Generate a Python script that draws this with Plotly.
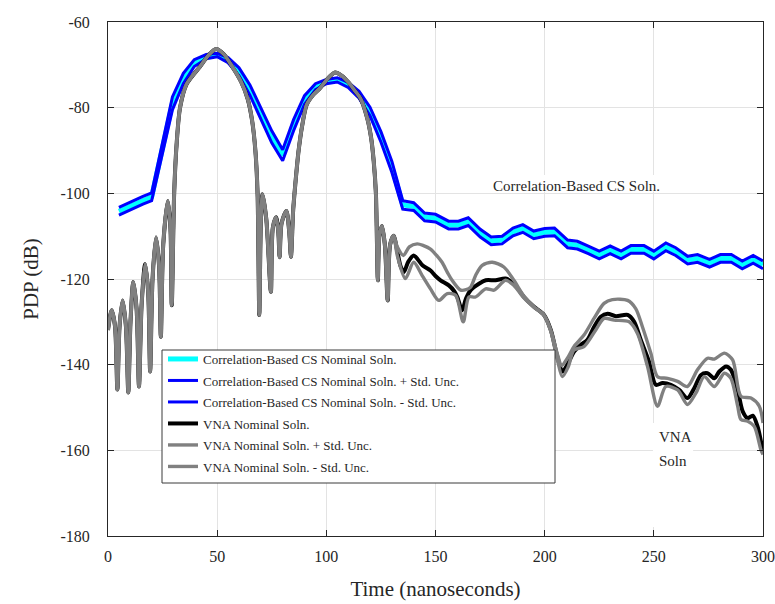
import plotly.graph_objects as go

# ---------------- Correlation-Based CS solution (coarse piecewise-linear) ----------------
cs_t = [5, 10, 16, 20, 29.5, 34.5, 39.5, 45, 50, 55, 60, 65, 70, 75, 80, 85, 90, 95, 100,
        105, 110, 115, 120, 125, 130, 135, 140, 145, 150, 156, 160.5, 165, 170.5, 175.5,
        180.5, 185.5, 190, 195, 200, 204.5, 210.5, 215, 220, 225, 230, 235, 239.5, 245.5,
        250, 255.5, 260, 265.5, 270, 275.5, 280.5, 285.5, 290.5, 295.5, 300]
cs_nominal = [-104.2, -103.0, -101.6, -100.8, -79.0, -73.2, -69.6, -68.1, -67.7, -68.9, -71.6,
              -75.9, -81.3, -86.8, -91.1, -84.1, -78.2, -75.1, -73.9, -73.5, -74.7, -77.0,
              -80.9, -86.8, -93.8, -102.7, -103.1, -105.5, -105.8, -107.4, -107.4, -106.6,
              -109.3, -111.1, -110.9, -109.0, -108.2, -109.7, -109.1, -109.0, -111.8, -112.1,
              -113.2, -114.4, -113.2, -114.4, -113.1, -113.1, -114.4, -112.5, -113.6, -115.6,
              -115.2, -116.3, -115.2, -115.2, -116.7, -115.4, -116.7]
cs_upper = [-103.3, -102.1, -100.7, -99.9, -77.5, -72.0, -68.8, -67.6, -67.3, -68.3, -70.7,
            -74.7, -80.0, -85.4, -89.8, -82.8, -77.2, -74.4, -73.4, -73.0, -74.1, -76.2,
            -79.9, -85.6, -92.5, -101.7, -102.2, -104.6, -104.9, -106.5, -106.5, -105.7,
            -108.4, -110.2, -110.0, -108.1, -107.3, -108.8, -108.2, -108.1, -110.9, -111.2,
            -112.3, -113.5, -112.3, -113.5, -112.2, -112.2, -113.5, -111.6, -112.7, -114.7,
            -114.3, -115.4, -114.3, -114.3, -115.8, -114.5, -115.8]
cs_lower = [-105.1, -103.9, -102.5, -101.7, -80.5, -74.4, -70.4, -68.6, -68.1, -69.5, -72.5,
            -77.1, -82.6, -88.2, -92.4, -85.4, -79.2, -75.8, -74.4, -74.0, -75.3, -77.8,
            -81.9, -88.0, -95.1, -103.7, -104.0, -106.4, -106.7, -108.3, -108.3, -107.5,
            -110.2, -112.0, -111.8, -109.9, -109.1, -110.6, -110.0, -109.9, -112.7, -113.0,
            -114.1, -115.3, -114.1, -115.3, -114.0, -114.0, -115.3, -113.4, -114.5, -116.5,
            -116.1, -117.2, -116.1, -116.1, -117.6, -116.3, -117.6]

# ---------------- VNA solution ----------------
# part shared by nominal and +/- std curves (they coincide up to ~131 ns)
vna_common_t = [0, 1.7, 3.2, 4.3, 5.3, 6.7, 8.2, 9.3, 10.3, 11.6, 13.1, 14.2, 15.4, 17.0, 18.4,
                19.3, 20.4, 22.0, 23.4, 24.2, 25.3, 27.4, 28.6, 29.2, 30.3, 31.5, 33.0, 36.0,
                42.0, 46.0, 49.5, 53.0, 57.0, 61.0, 64.0, 66.0, 67.5, 68.5, 69.3, 70.0, 70.8,
                72.5, 74.6, 75.5, 77.0, 78.0, 78.6, 79.5, 81.7, 83.0, 83.8, 84.8, 85.8, 87.3,
                89.0, 91.0, 94.0, 97.0, 101.0, 104.0, 107.0, 110.0, 113.0, 115.6, 118.7, 120.5,
                121.7, 122.7, 123.6, 124.3, 125.5, 126.8, 128.1, 129.2, 130.8]
vna_common_db = [-131.9, -127.3, -131.0, -145.8, -131.0, -125.0, -131.0, -146.5, -130.0, -120.7,
                 -127.0, -145.1, -126.0, -116.5, -123.0, -141.6, -120.0, -110.3, -117.0, -133.5,
                 -112.0, -101.8, -108.0, -126.1, -100.0, -88.0, -80.0, -74.5, -70.5, -67.8,
                 -66.3, -67.5, -70.5, -74.0, -78.0, -83.0, -90.0, -100.0, -128.4, -107.0,
                 -100.2, -106.0, -123.0, -108.0, -105.6, -109.0, -114.9, -107.0, -104.1, -109.0,
                 -114.8, -104.0, -97.8, -90.0, -84.0, -79.3, -77.0, -75.5, -73.0, -71.8, -72.5,
                 -74.0, -76.0, -77.8, -82.4, -87.0, -92.5, -100.0, -120.3, -110.0, -107.6,
                 -112.0, -125.0, -112.0, -109.9]

vna_nom_tail_t = [132.5, 134, 135.5, 137.5, 140, 142, 144, 147.7, 150, 152.3, 156.1, 158.5, 160,
                  162.2, 164, 166.1, 169.9, 173, 177.5, 182.1, 185.9, 190.5, 195.1, 199.7, 202.8,
                  205.8, 208.1, 210.4, 213.4, 216.5, 219.6, 222.6, 225.7, 228.8, 232.6, 238, 241,
                  244, 247.8, 250.9, 254, 257.8, 261.6, 265.4, 268.5, 271.6, 274.6, 277.7, 280,
                  283.1, 285.3, 288.4, 290.7, 293, 295.3, 297.5, 300]
vna_nom_tail_db = [-113.5, -117.0, -118.4, -116.0, -114.5, -115.5, -116.8, -118.0, -119.3, -120.3,
                   -121.5, -122.8, -124.2, -127.3, -124.5, -122.6, -121.1, -120.3, -120.3, -119.9,
                   -121.1, -124.2, -126.5, -128.4, -131.9, -138.1, -141.6, -140.0, -137.0, -135.4,
                   -134.2, -131.2, -128.8, -128.1, -128.7, -128.4, -130.0, -134.2, -139.3, -144.7,
                   -144.3, -144.7, -145.9, -147.8, -145.5, -142.4, -142.0, -143.2, -141.6, -140.4,
                   -141.2, -145.9, -150.9, -152.5, -151.9, -154.4, -160.5]

vna_up_tail_t = [132.5, 135.3, 138, 141.6, 144.5, 147.7, 150.5, 153, 155.5, 157.6, 161.5, 164,
                 166.1, 168.5, 171.4, 176, 181.3, 185.9, 190.5, 195.1, 199.7, 202.8, 205.8,
                 207.8, 210.4, 213.4, 218, 222.6, 227.2, 231, 238, 241.7, 244.8, 248.6, 251.7,
                 256.3, 260.9, 265.4, 270, 274.6, 277.7, 282.3, 286.1, 289.9, 294.5, 298.3, 300]
vna_up_tail_db = [-112.5, -114.5, -112.5, -111.8, -112.2, -113.0, -114.5, -116.1, -118.5, -120.3,
                  -122.6, -122.5, -121.9, -119.0, -116.8, -116.1, -117.2, -120.3, -124.0, -126.5,
                  -128.4, -131.9, -137.5, -140.2, -138.5, -135.8, -133.1, -129.2, -125.7, -124.8,
                  -125.0, -126.9, -131.2, -137.3, -142.8, -143.2, -143.9, -145.1, -141.2, -138.5,
                  -138.7, -137.3, -138.9, -147.4, -147.8, -149.7, -153.6]

vna_lo_tail_t = [132.5, 136.2, 140, 143.9, 147.7, 151.5, 155.4, 159.2, 162.7, 165.3, 168.3, 173,
                 176.8, 182.1, 185.9, 190.5, 195.1, 199.7, 202.8, 205.8, 208.1, 210.8, 213.4, 218,
                 223.4, 227.2, 231.8, 238.7, 242.5, 247.1, 251.7, 255.5, 260.9, 265.4, 269.3,
                 273.1, 277.7, 282.3, 285.3, 288.4, 289.9, 293, 296, 299, 300]
vna_lo_tail_db = [-114.5, -119.9, -116.1, -119.2, -122.3, -125.0, -123.4, -123.8, -130.0, -124.2,
                  -124.2, -122.3, -122.6, -120.3, -121.5, -124.4, -126.6, -128.5, -132.2, -138.8,
                  -142.8, -140.5, -136.6, -135.8, -131.9, -129.2, -129.6, -130.0, -132.7, -140.4,
                  -149.7, -145.1, -145.9, -149.3, -146.6, -142.8, -145.1, -142.0, -143.2, -149.7,
                  -152.8, -153.2, -154.4, -159.8, -161.0]

x_ticks = [0, 50, 100, 150, 200, 250, 300]
x_ticktext = ["0", "50", "100", "150", "200", "250", "300"]
y_ticks = [-180, -160, -140, -120, -100, -80, -60]
y_ticktext = ["-180", "-160", "-140", "-120", "-100", "-80", "-60"]

legend_names = [
    "Correlation-Based CS Nominal Soln.",
    "Correlation-Based CS Nominal Soln. + Std. Unc.",
    "Correlation-Based CS Nominal Soln. - Std. Unc.",
    "VNA Nominal Soln.",
    "VNA Nominal Soln. + Std. Unc.",
    "VNA Nominal Soln. - Std. Unc.",
]

FONT = "Liberation Serif"
TXT = "#262626"
CYAN, BLUE, BLACK, GRAY = "#00FFFF", "#0000FF", "#000000", "#808080"

fig = go.Figure()
series = [
    (cs_t, cs_nominal, CYAN, 5.0, "linear"),
    (cs_t, cs_upper, BLUE, 3.0, "linear"),
    (cs_t, cs_lower, BLUE, 3.0, "linear"),
    (vna_common_t + vna_nom_tail_t, vna_common_db + vna_nom_tail_db, BLACK, 4.0, "spline"),
    (vna_common_t + vna_up_tail_t, vna_common_db + vna_up_tail_db, GRAY, 3.4, "spline"),
    (vna_common_t + vna_lo_tail_t, vna_common_db + vna_lo_tail_db, GRAY, 3.4, "spline"),
]
for i, (xs, ys, col, w, shape) in enumerate(series):
    line = dict(color=col, width=w, shape=shape)
    if shape == "spline":
        line["smoothing"] = 0.8
    fig.add_trace(go.Scatter(x=xs, y=ys, mode="lines", name=legend_names[i], line=line,
                             legendgroup=f"g{i}", hoverinfo="skip"))

axis_common = dict(
    showgrid=True, gridcolor="#e3e3e3", gridwidth=1,
    showline=True, linecolor="#262626", linewidth=1, mirror="allticks",
    ticks="inside", ticklen=6, tickcolor="#262626", tickwidth=1,
    zeroline=False, automargin=False,
    tickfont=dict(family=FONT, size=16, color=TXT),
)
fig.update_xaxes(range=[0, 300], tickvals=x_ticks, ticktext=x_ticktext,
                 title=dict(text="Time (nanoseconds)", font=dict(family=FONT, size=21, color=TXT),
                            standoff=17),
                 ticklabelstandoff=6, **axis_common)
fig.update_yaxes(range=[-180, -60], tickvals=y_ticks, ticktext=y_ticktext,
                 title=dict(text="PDP (dB)", font=dict(family=FONT, size=21, color=TXT),
                            standoff=16),
                 ticklabelstandoff=14, **axis_common)

# white boxes behind text labels (hide gridlines like the original)
fig.add_shape(type="rect", xref="x", yref="y", x0=173.5, x1=255.5, y0=-99.6, y1=-95.7,
              fillcolor="white", line=dict(width=0), layer="between")
fig.add_shape(type="rect", xref="x", yref="y", x0=249.6, x1=268.0, y0=-177.9, y1=-153.6,
              fillcolor="white", line=dict(width=0), layer="between")
# legend box
fig.add_shape(type="rect", xref="paper", yref="paper",
              x0=(162 - 108) / 655, x1=(555 - 108) / 655,
              y0=(536 - 483) / 514, y1=(536 - 350) / 514,
              fillcolor="white", line=dict(color="#3a3a3a", width=1), layer="above")

fig.add_annotation(x=214.5, y=-98.3, xref="x", yref="y", text="Correlation-Based CS Soln.",
                   showarrow=False, font=dict(family=FONT, size=15, color=TXT))
fig.add_annotation(x=251.6, y=-156.9, xref="x", yref="y", text="VNA", xanchor="left",
                   showarrow=False, font=dict(family=FONT, size=15, color=TXT))
fig.add_annotation(x=251.6, y=-162.5, xref="x", yref="y", text="Soln", xanchor="left",
                   showarrow=False, font=dict(family=FONT, size=15, color=TXT))

fig.update_layout(
    width=775, height=604, autosize=False,
    margin=dict(l=108, r=12, t=22, b=68),
    plot_bgcolor="white", paper_bgcolor="white",
    showlegend=True,
    legend=dict(x=(163 - 108) / 655, y=(536 - 344) / 514, xanchor="left", yanchor="top",
                bgcolor="rgba(0,0,0,0)", borderwidth=0, traceorder="grouped",
                tracegroupgap=1.6, font=dict(family=FONT, size=13, color=TXT),
                itemwidth=30),
)

fig.write_html("out.html")
